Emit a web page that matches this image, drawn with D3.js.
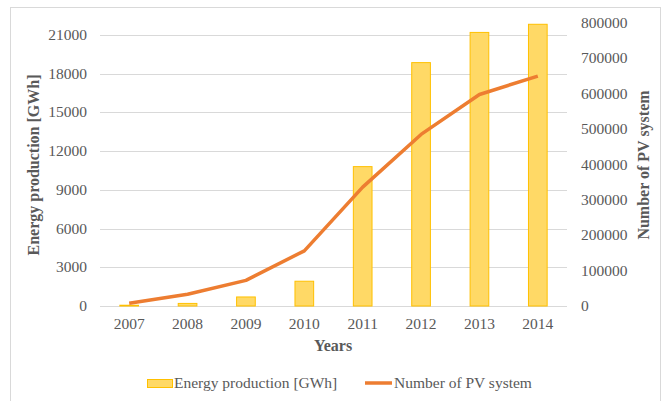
<!DOCTYPE html>
<html>
<head>
<meta charset="utf-8">
<script src="https://cdn.jsdelivr.net/npm/d3@7"></script>
<style>
  body { margin: 0; background: #fff; }
  text { font-family: "Liberation Serif", "Times New Roman", Times, serif; }
</style>
</head>
<body>
<div id="chart"></div>
<script>
// data
const years = ['2007', '2008', '2009', '2010', '2011', '2012', '2013', '2014'];
const energy = [60, 200, 700, 1920, 10800, 18860, 21200, 21830];
const pvSystems = [7700, 33000, 72500, 156000, 336000, 485000, 598000, 650000];
const leftTicks = [0, 3000, 6000, 9000, 12000, 15000, 18000, 21000];
const rightTicks = [0, 100000, 200000, 300000, 400000, 500000, 600000, 700000, 800000];

const W = 670, H = 401;
const svg = d3.select('#chart').append('svg')
  .attr('width', W)
  .attr('height', H);

// outer frame
svg.append('rect')
  .attr('x', 10.5).attr('y', 7.5)
  .attr('width', 650).attr('height', 400)
  .attr('fill', 'none')
  .attr('stroke', '#d9d9d9');

const x = d3.scaleBand().domain(years).range([100, 567]);
const yL = d3.scaleLinear().domain([0, 21000]).range([306, 35]);
const yR = d3.scaleLinear().domain([0, 800000]).range([306, 23]);

// gridlines
svg.append('g')
  .selectAll('line')
  .data(leftTicks)
  .join('line')
  .attr('x1', 100).attr('x2', 567)
  .attr('y1', d => Math.round(yL(d)) + 0.5)
  .attr('y2', d => Math.round(yL(d)) + 0.5)
  .attr('stroke', '#d9d9d9');

// left tick labels
svg.append('g')
  .selectAll('text')
  .data(leftTicks)
  .join('text')
  .attr('x', 87)
  .attr('y', d => yL(d) + 5)
  .attr('text-anchor', 'end')
  .attr('fill', '#595959')
  .style('font-size', '15.5px')
  .text(d => d);

// right tick labels
svg.append('g')
  .selectAll('text')
  .data(rightTicks)
  .join('text')
  .attr('x', 581)
  .attr('y', d => yR(d) + 5)
  .attr('fill', '#595959')
  .style('font-size', '15.5px')
  .text(d => d);

// x tick labels
svg.append('g')
  .selectAll('text')
  .data(years)
  .join('text')
  .attr('x', d => x(d) + x.bandwidth() / 2)
  .attr('y', 329)
  .attr('text-anchor', 'middle')
  .attr('fill', '#595959')
  .style('font-size', '15.5px')
  .text(d => d);

// bars
const bw = x.bandwidth() * 0.32;
svg.append('g')
  .selectAll('rect')
  .data(years)
  .join('rect')
  .attr('x', d => x(d) + (x.bandwidth() - bw) / 2)
  .attr('y', (d, i) => yL(energy[i]))
  .attr('width', bw)
  .attr('height', (d, i) => yL(0) - yL(energy[i]))
  .attr('fill', '#ffd966')
  .attr('stroke', '#ffc000')
  .attr('stroke-width', 1);

// line
const line = d3.line()
  .x((d, i) => x(years[i]) + x.bandwidth() / 2)
  .y(d => yR(d));
svg.append('path')
  .datum(pvSystems)
  .attr('d', line)
  .attr('fill', 'none')
  .attr('stroke', '#ed7d31')
  .attr('stroke-width', 3.5)
  .attr('stroke-linejoin', 'round');

// axis titles
svg.append('text')
  .attr('x', 333).attr('y', 351)
  .attr('text-anchor', 'middle')
  .attr('fill', '#595959')
  .style('font-size', '16px')
  .style('font-weight', 'bold')
  .text('Years');

svg.append('text')
  .attr('transform', 'translate(39,165) rotate(-90)')
  .attr('text-anchor', 'middle')
  .attr('fill', '#595959')
  .style('font-size', '16px')
  .style('font-weight', 'bold')
  .text('Energy production [GWh]');

svg.append('text')
  .attr('transform', 'translate(649,165) rotate(-90)')
  .attr('text-anchor', 'middle')
  .attr('fill', '#595959')
  .style('font-size', '16px')
  .style('font-weight', 'bold')
  .text('Number of PV system');

// legend
const lg = svg.append('g');
lg.append('rect')
  .attr('x', 147.5).attr('y', 379.5)
  .attr('width', 25).attr('height', 8)
  .attr('fill', '#ffd966')
  .attr('stroke', '#ffc000');
lg.append('text')
  .attr('x', 174).attr('y', 388)
  .attr('fill', '#595959')
  .style('font-size', '15.5px')
  .text('Energy production [GWh]');
lg.append('line')
  .attr('x1', 365).attr('x2', 392)
  .attr('y1', 383).attr('y2', 383)
  .attr('stroke', '#ed7d31')
  .attr('stroke-width', 3.5);
lg.append('text')
  .attr('x', 394).attr('y', 388)
  .attr('fill', '#595959')
  .style('font-size', '15.5px')
  .text('Number of PV system');
</script>
</body>
</html>
